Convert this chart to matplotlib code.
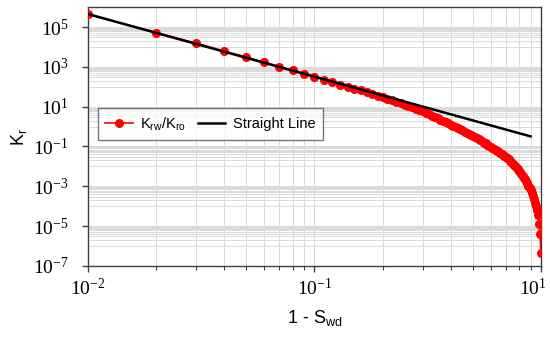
import matplotlib
matplotlib.use("Agg")
import matplotlib.pyplot as plt
import matplotlib.transforms as mtransforms
from matplotlib.ticker import FixedLocator, FixedFormatter, NullFormatter

# 1 - Swd sampled every 0.01, last point close to 1
one_minus_swd = [0.01, 0.02, 0.03, 0.04, 0.05, 0.06, 0.07, 0.08, 0.09, 0.10,
                 0.11, 0.12, 0.13, 0.14, 0.15, 0.16, 0.17, 0.18, 0.19, 0.20,
                 0.21, 0.22, 0.23, 0.24, 0.25, 0.26, 0.27, 0.28, 0.29, 0.30,
                 0.31, 0.32, 0.33, 0.34, 0.35, 0.36, 0.37, 0.38, 0.39, 0.40,
                 0.41, 0.42, 0.43, 0.44, 0.45, 0.46, 0.47, 0.48, 0.49, 0.50,
                 0.51, 0.52, 0.53, 0.54, 0.55, 0.56, 0.57, 0.58, 0.59, 0.60,
                 0.61, 0.62, 0.63, 0.64, 0.65, 0.66, 0.67, 0.68, 0.69, 0.70,
                 0.71, 0.72, 0.73, 0.74, 0.75, 0.76, 0.77, 0.78, 0.79, 0.80,
                 0.81, 0.82, 0.83, 0.84, 0.85, 0.86, 0.87, 0.88, 0.89, 0.90,
                 0.91, 0.92, 0.93, 0.94, 0.95, 0.96, 0.97, 0.98, 0.99, 0.999]

# Krw/Kro
kr_ratio = [4.4e5, 5.2e4, 1.55e4, 6.2e3, 3.1e3, 1.7e3, 1.02e3, 660, 447, 309,
            224, 170, 129, 100, 81, 65, 54, 44, 36, 30,
            25, 21, 17.4, 14.8, 12.6, 10.7, 9.1, 7.8, 6.8, 5.75,
            4.9, 4.2, 3.55, 3.1, 2.63, 2.24, 1.95, 1.66, 1.45, 1.26,
            1.10, 0.955, 0.83, 0.72, 0.65, 0.56, 0.50, 0.44, 0.39, 0.34,
            0.30, 0.26, 0.234, 0.204, 0.178, 0.158, 0.141, 0.123, 0.107, 0.095,
            0.083, 0.074, 0.066, 0.059, 0.054, 0.048, 0.043, 0.038, 0.033, 0.0295,
            0.0257, 0.0224, 0.019, 0.0162, 0.0138, 0.0117, 0.0102, 0.0085, 0.0071, 0.0059,
            0.0050, 0.0041, 0.0033, 0.00275, 0.0022, 0.00178, 0.00138, 0.00105, 8.3e-4, 6.2e-4,
            4.6e-4, 3.2e-4, 2.2e-4, 1.4e-4, 9.8e-5, 6.3e-5, 3.5e-5, 1.2e-5, 3.9e-6, 4.5e-7]

# straight line end points
line_x = [0.01, 0.9]
line_y = [4.5e5, 0.32]

x_ticks = [0.01, 0.1, 1]
x_tick_labels = ['$\\mathregular{10^{-2}}$', '$\\mathregular{10^{-1}}$', '$\\mathregular{10^{1}}$']
y_ticks = [1e-7, 1e-5, 1e-3, 1e-1, 1e1, 1e3, 1e5]
y_tick_labels = ['$\\mathregular{10^{-7}}$', '$\\mathregular{10^{-5}}$', '$\\mathregular{10^{-3}}$',
                 '$\\mathregular{10^{-1}}$', '$\\mathregular{10^{1}}$', '$\\mathregular{10^{3}}$',
                 '$\\mathregular{10^{5}}$']

fig = plt.figure(figsize=(5.5, 3.4), dpi=100)
ax = fig.add_axes([0.16, 0.218, 0.8236, 0.761])

ax.plot(one_minus_swd, kr_ratio, color='#ff0000', lw=1.2, marker='o', ms=5.5,
        label='K$_\\mathregular{rw}$/K$_\\mathregular{ro}$', zorder=3)
ax.plot(line_x, line_y, color='black', lw=1.8, label='Straight Line', zorder=4)

ax.set_xscale('log')
ax.set_yscale('log')
ax.set_xlim(0.01, 1)
ax.set_ylim(1e-7, 1e6)

# grid lines: minor x at 2..9 per decade, minor y in the even decades
x_minor = [m * 10.0 ** e for e in (-2, -1) for m in range(2, 10)]
y_minor = [m * 10.0 ** e for e in (-6, -4, -2, 0, 2, 4) for m in range(1, 10)]
ax.xaxis.set_major_locator(FixedLocator(x_ticks))
ax.xaxis.set_major_formatter(FixedFormatter(x_tick_labels))
ax.xaxis.set_minor_locator(FixedLocator(x_minor))
ax.xaxis.set_minor_formatter(NullFormatter())
ax.yaxis.set_major_locator(FixedLocator(y_ticks))
ax.yaxis.set_major_formatter(FixedFormatter(y_tick_labels))
ax.yaxis.set_minor_locator(FixedLocator(y_minor))
ax.yaxis.set_minor_formatter(NullFormatter())

ax.grid(True, which='both', color='#dadada', lw=0.7)
ax.set_axisbelow(True)

ax.tick_params(axis='both', which='major', length=4, width=1, color='#404040',
               labelsize=14)
ax.tick_params(axis='y', which='major', pad=10)
ax.tick_params(axis='x', which='major', pad=5)
ax.tick_params(axis='x', which='minor', length=3, width=0.8, color='#404040')
ax.tick_params(axis='y', which='minor', length=0)
for lab in ax.get_xticklabels() + ax.get_yticklabels():
    lab.set_fontfamily('Liberation Serif')

# the last x label sits a little left of its tick, as in the original
shift = mtransforms.ScaledTranslation(-8 / 100, 0, fig.dpi_scale_trans)
last = ax.get_xticklabels()[-1]
last.set_transform(last.get_transform() + shift)

for sp in ax.spines.values():
    sp.set_color('#404040')
    sp.set_linewidth(1)

ax.set_xlabel('1 - S$_\\mathregular{wd}$', fontsize=13, family='Liberation Sans', labelpad=6)
ax.set_ylabel('K$_\\mathregular{r}$', fontsize=13, family='Liberation Sans', labelpad=3)

leg = ax.legend(loc='upper left', bbox_to_anchor=(0.022, 0.61), ncol=2,
                prop={'family': 'Liberation Sans', 'size': 10.5},
                frameon=True, fancybox=False, edgecolor='#4a5868',
                handlelength=1.9, handletextpad=0.5, columnspacing=0.8,
                borderpad=0.5, borderaxespad=0)
leg.get_frame().set_linewidth(1)

fig.savefig('out.png', dpi=100)
